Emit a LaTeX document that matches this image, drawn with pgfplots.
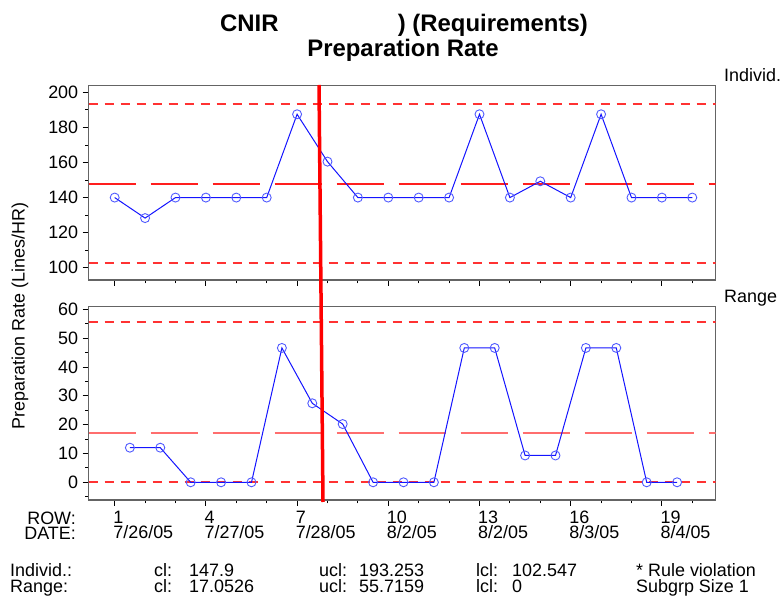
\documentclass[border=0pt]{standalone}
\usepackage{fontspec}
\setmainfont{Liberation Sans}
\usepackage{pgfplots}
\usepackage{pgfplotstable}
\pgfplotsset{compat=1.18}
\definecolor{cFrame}{RGB}{100,100,100}
\definecolor{cLimit}{RGB}{255,50,50}
\definecolor{cCenterA}{RGB}{255,30,30}
\definecolor{cCenterB}{RGB}{255,110,110}
\definecolor{cLine}{RGB}{20,20,255}
\definecolor{cMark}{RGB}{80,90,255}

\pgfplotstableread{
x y
1 140
2 128.3
3 140
4 140
5 140
6 140
7 187.5
8 160.5
9 140
10 140
11 140
12 140
13 187.5
14 140
15 149.3
16 140
17 187.5
18 140
19 140
20 140
}\indiv

\pgfplotstableread{
x y
1.5 12
2.5 12
3.5 0
4.5 0
5.5 0
6.5 46.6
7.5 27.4
8.5 20.2
9.5 0
10.5 0
11.5 0
12.5 46.6
13.5 46.6
14.5 9.3
15.5 9.3
16.5 46.6
17.5 46.6
18.5 0
19.5 0
}\mrange

\pgfplotstableread{
x ucl cl lcl
0.145 193.253 147.9 102.547
20.77 193.253 147.9 102.547
}\indlim

\pgfplotstableread{
x ucl cl lcl
0.145 55.7159 17.0526 0
20.77 55.7159 17.0526 0
}\rnglim

\newcommand{\tf}{\fontsize{18}{15}\selectfont}
\newcommand{\ttl}{\fontsize{24}{24}\selectfont\bfseries}
\tikzset{rt/.style={right, inner sep=1.5bp, text=black, font=\tf}}

\begin{document}
\begin{tikzpicture}
\path[use as bounding box] (0bp,0bp) rectangle (782bp,597bp);
\pgfplotsset{cc/.style={scale only axis, width=627bp, xmin=0.145, xmax=20.77,
  axis line style={draw=cFrame, line width=1.3bp},
  tick style={draw=black, line width=0.9bp}, tick align=outside,
  major tick length=6bp, minor tick length=3.5bp,
  xtick pos=bottom, ytick pos=left,
  xtick={1,4,...,19}, minor xtick={1,...,20},
  ticklabel style={font=\tf},
  yticklabel style={xshift=-1bp},
  /pgf/number format/assume math mode=true},
  lim/.style={draw=cLimit, solid, dash pattern=on 9bp off 7bp, line width=1.8bp, mark=none},
  ser/.style={draw=cLine, solid, line width=1bp, mark=o, mark size=4.5bp, mark options={draw=cMark, solid, line width=0.9bp}}}

\begin{axis}[cc, at={(88.7bp,317bp)}, anchor=south west, height=194.3bp,
  ymin=93, ymax=203.8, ytick={100,120,...,200}, minor ytick={110,130,...,190},
  xticklabels={}]
\addplot[draw=cCenterA, solid, dash pattern=on 47bp off 15bp, line width=1.8bp, mark=none] table[x=x, y=cl] {\indlim};
\addplot[lim] table[x=x, y=ucl] {\indlim};
\addplot[lim] table[x=x, y=lcl] {\indlim};
\addplot[ser] table {\indiv};
\draw[draw=cFrame, line width=1bp] (axis cs:20.77,193.253) -- ++(6bp,0bp) node[rt]{ucl};
\draw[draw=cFrame, line width=1bp] (axis cs:20.77,147.9) -- ++(6bp,0bp) node[rt]{cl};
\draw[draw=cFrame, line width=1bp] (axis cs:20.77,102.547) -- ++(6bp,0bp) node[rt]{lcl};
\end{axis}

\begin{axis}[cc, at={(88.7bp,97bp)}, anchor=south west, height=193.3bp,
  ymin=-6.14, ymax=60.9, ytick={0,10,...,60}, minor ytick={-5,5,...,55},
  xticklabels={{1\\7/26/05},{4\\7/27/05},{7\\7/28/05},{10\\8/2/05},{13\\8/2/05},{16\\8/3/05},{19\\8/4/05}},
  xticklabel style={align=left, anchor=north west, inner sep=0pt, yshift=-5bp, xshift=-1.5bp}]
\addplot[draw=cLimit, solid, dash pattern=on 9bp off 7bp, line width=1.9bp, mark=none] table[x=x, y=ucl] {\rnglim};
\addplot[draw=cCenterB, solid, dash pattern=on 47bp off 15bp, line width=2bp, mark=none] table[x=x, y=cl] {\rnglim};
\addplot[lim] table[x=x, y=lcl] {\rnglim};
\addplot[ser] table {\mrange};
\draw[draw=cFrame, line width=1bp] (axis cs:20.77,55.7159) -- ++(6bp,0bp) node[rt]{ucl};
\draw[draw=cFrame, line width=1bp] (axis cs:20.77,17.0526) -- ++(6bp,0bp) node[rt]{cl};
\draw[draw=cFrame, line width=1bp] (axis cs:20.77,0) -- ++(6bp,0bp) node[rt]{lcl};
\end{axis}

\draw[draw=red, line width=3.5bp] (319bp,512bp) -- (323bp,95bp);

% titles
\node[anchor=base west, font=\ttl, inner sep=0pt] at (220bp,565bp) {CNIR};
\node[anchor=base east, font=\ttl, inner sep=0pt] at (588bp,565bp) {) (Requirements)};
\node[anchor=base, font=\ttl, inner sep=0pt] at (403bp,540bp) {Preparation Rate};
\node[anchor=base west, font=\tf, inner sep=0pt] at (724bp,515bp) {Individ.};
\node[anchor=base west, font=\tf, inner sep=0pt] at (724bp,294bp) {Range};
\node[rotate=90, font=\tf, inner sep=0pt] at (20bp,281bp) {Preparation Rate (Lines/HR)};
\node[anchor=north east, align=right, font=\tf, inner sep=0pt] at (76bp,85bp) {ROW:\\DATE:};
% statistics
\begin{scope}[every node/.style={anchor=base west, inner sep=0pt, font=\tf}]
\node at (10bp,21bp) {Individ.:};
\node at (10bp,5bp) {Range:};
\node at (154bp,21bp) {cl:}; \node at (189bp,21bp) {147.9};
\node at (154bp,5bp) {cl:}; \node at (189bp,5bp) {17.0526};
\node at (319bp,21bp) {ucl:}; \node at (359bp,21bp) {193.253};
\node at (319bp,5bp) {ucl:}; \node at (359bp,5bp) {55.7159};
\node at (476bp,21bp) {lcl:}; \node at (512bp,21bp) {102.547};
\node at (476bp,5bp) {lcl:}; \node at (512bp,5bp) {0};
\node at (636bp,21bp) {* Rule violation};
\node at (636bp,5bp) {Subgrp Size 1};
\end{scope}
\end{tikzpicture}
\end{document}
